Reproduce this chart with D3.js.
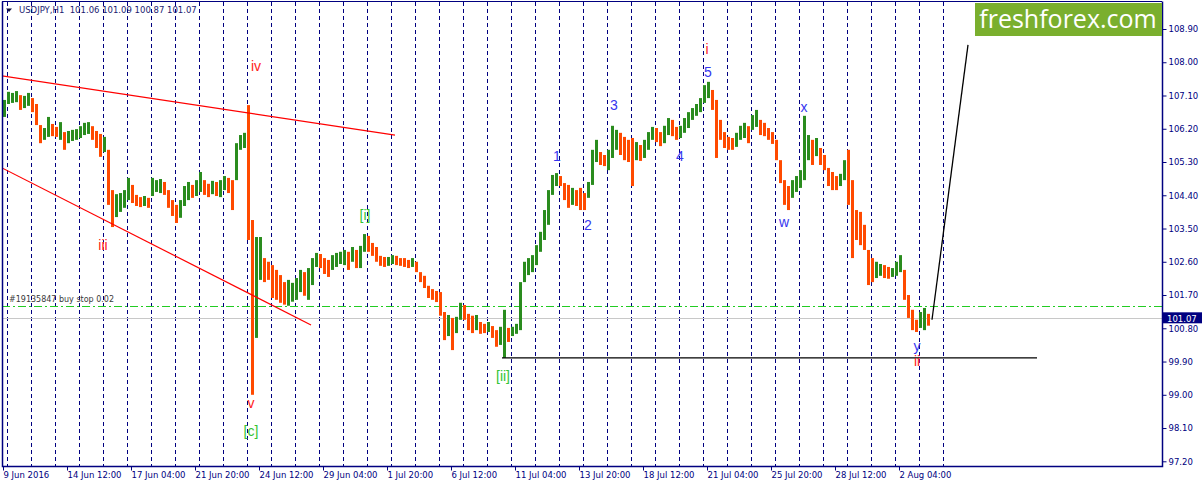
<!DOCTYPE html>
<html>
<head>
<meta charset="utf-8">
<script src="https://cdnjs.cloudflare.com/ajax/libs/d3/7.8.5/d3.min.js"></script>
<style>
  html, body { margin: 0; padding: 0; background: #fff; }
  svg { display: block; }
</style>
</head>
<body>
<div id="chart"></div>
<script>
// USDJPY H1, grouped into 4-hour high/low columns, first bar 9 Jun 2016 20:00
const hoursPerColumn = 4;
const barHigh = [
  106.98, 107.20, 107.17, 107.22, 107.11, 107.09, 107.17, 107.03, 106.87, 106.30,
  106.22, 106.52, 106.33, 106.25, 106.38, 106.11, 106.14, 106.17, 106.19, 106.27,
  106.36, 106.38, 106.27, 106.14, 106.06, 105.98, 105.63, 104.54, 104.43, 104.46,
  104.54, 104.87, 104.68, 104.41, 104.35, 104.38, 104.33, 104.87, 104.81, 104.84,
  104.76, 104.54, 104.27, 104.14, 104.27, 104.65, 104.76, 104.68, 104.81, 105.03,
  104.81, 104.71, 104.79, 104.76, 104.81, 104.92, 104.87, 104.81, 105.81, 106.03,
  106.09, 106.84, 103.73, 103.27, 103.27, 102.70, 102.60, 102.51, 102.38, 102.24,
  102.05, 102.11, 102.03, 102.16, 102.38, 102.32, 102.43, 102.70, 102.84, 102.81,
  102.70, 102.65, 102.78, 102.84, 102.87, 102.92, 102.87, 103.00, 102.92, 103.03,
  103.35, 103.30, 103.11, 103.00, 102.76, 102.73, 102.73, 102.78, 102.76, 102.70,
  102.70, 102.65, 102.70, 102.60, 102.32, 102.22, 101.95, 101.86, 101.81, 101.78,
  101.24, 101.16, 101.08, 101.11, 101.49, 101.43, 101.19, 101.14, 101.16, 100.97,
  100.92, 100.97, 100.86, 100.75, 100.84, 101.30, 100.81, 100.84, 100.92, 102.05,
  102.60, 102.70, 102.78, 103.05, 103.41, 104.00, 104.54, 104.95, 105.00, 104.92,
  104.73, 104.68, 104.60, 104.54, 104.60, 104.46, 104.76, 105.63, 105.90, 105.57,
  105.49, 105.63, 106.28, 106.17, 106.09, 105.98, 105.90, 105.95, 105.84, 105.76,
  105.90, 106.11, 106.25, 106.22, 106.11, 106.28, 106.49, 106.44, 106.25, 106.28,
  106.49, 106.65, 106.76, 106.87, 107.03, 107.38, 107.47, 107.25, 106.98, 106.44,
  106.11, 105.98, 105.95, 106.09, 106.28, 106.36, 106.27, 106.57, 106.71, 106.44,
  106.36, 106.22, 106.11, 105.90, 105.35, 104.81, 104.65, 104.81, 104.92, 105.08,
  106.55, 106.03, 105.90, 105.95, 105.68, 105.49, 105.14, 105.03, 104.92, 104.98,
  105.35, 105.63, 104.81, 104.00, 103.95, 103.60, 102.92, 102.70, 102.60, 102.54,
  102.51, 102.46, 102.43, 102.60, 102.78, 102.38, 101.70, 101.30, 101.03, 101.24,
  101.35, 101.19
];
const barLow = [
  106.52, 106.87, 106.90, 106.92, 106.71, 106.76, 106.82, 106.65, 106.30, 105.81,
  105.90, 105.98, 106.00, 105.98, 105.90, 105.63, 105.81, 105.87, 105.90, 105.95,
  106.03, 106.06, 105.90, 105.68, 105.44, 105.57, 104.14, 103.54, 103.81, 103.95,
  104.06, 104.27, 104.19, 104.11, 104.08, 104.11, 104.06, 104.38, 104.49, 104.46,
  104.41, 104.06, 103.84, 103.65, 103.79, 104.11, 104.27, 104.33, 104.38, 104.49,
  104.41, 104.35, 104.43, 104.38, 104.35, 104.54, 104.46, 104.00, 104.81, 105.63,
  105.68, 103.19, 99.00, 100.54, 102.11, 102.05, 102.11, 101.62, 101.57, 101.49,
  101.44, 101.41, 101.52, 101.57, 101.78, 101.68, 101.57, 101.97, 102.46, 102.43,
  102.27, 102.19, 102.38, 102.46, 102.54, 102.51, 102.38, 102.60, 102.43, 102.43,
  102.87, 102.87, 102.76, 102.60, 102.49, 102.46, 102.49, 102.54, 102.51, 102.49,
  102.46, 102.43, 102.46, 102.32, 102.05, 101.89, 101.62, 101.57, 101.51, 101.14,
  100.48, 100.59, 100.21, 100.67, 101.03, 101.03, 100.75, 100.67, 100.75, 100.65,
  100.67, 100.70, 100.54, 100.30, 100.35, 100.00, 100.43, 100.59, 100.65, 100.75,
  102.05, 102.24, 102.32, 102.51, 102.87, 103.19, 103.60, 104.41, 104.65, 104.65,
  104.27, 104.06, 104.14, 104.11, 104.00, 104.00, 104.33, 104.68, 105.30, 105.22,
  105.19, 105.08, 105.41, 105.63, 105.49, 105.35, 105.30, 104.65, 105.35, 105.33,
  105.41, 105.63, 105.90, 105.84, 105.73, 105.81, 106.03, 106.00, 105.90, 105.95,
  106.09, 106.22, 106.44, 106.55, 106.65, 106.90, 107.03, 106.71, 105.41, 105.90,
  105.68, 105.63, 105.63, 105.71, 105.90, 105.95, 105.81, 106.17, 106.25, 106.03,
  106.00, 105.90, 105.79, 105.35, 104.73, 104.14, 104.00, 104.33, 104.49, 104.60,
  104.81, 105.35, 105.22, 105.46, 105.22, 105.08, 104.65, 104.54, 104.54, 104.65,
  104.81, 104.14, 102.70, 103.19, 103.05, 102.92, 101.97, 102.05, 102.16, 102.22,
  102.16, 102.14, 102.19, 102.22, 102.32, 101.57, 101.08, 100.75, 100.70, 100.81,
  100.75, 100.87
];

const timeLabels = [
  "9 Jun 2016", "14 Jun 12:00", "17 Jun 04:00", "21 Jun 20:00", "24 Jun 12:00",
  "29 Jun 04:00", "1 Jul 20:00", "6 Jul 12:00", "11 Jul 04:00", "13 Jul 20:00",
  "18 Jul 12:00", "21 Jul 04:00", "25 Jul 20:00", "28 Jul 12:00", "2 Aug 04:00"
];
const timeLabelHours = [0, 64, 128, 192, 256, 320, 384, 448, 512, 576, 640, 704, 768, 832, 896];
const priceTicks = [108.9, 108.0, 107.1, 106.2, 105.3, 104.4, 103.5, 102.6, 101.7, 100.8, 99.9, 99.0, 98.1, 97.2];

const lastPrice = 101.07;
const buyStopPrice = 101.39;
const orderText = "#19135847 buy stop 0.02";
const titleText = "USDJPY,H1  101.06 101.09 100.87 101.07";

// wave counts: [text, hour, price, degree]
const waveLabels = [
  ["iii", 100, 103.06, "minor"],
  ["iv", 253, 107.90, "minor"],
  ["v", 248, 98.78, "minor"],
  ["[c]", 248, 98.02, "intermediate"],
  ["[i]", 362, 103.87, "intermediate"],
  ["[ii]", 500, 99.51, "intermediate"],
  ["1", 554, 105.46, "minute"],
  ["2", 585, 103.60, "minute"],
  ["3", 611, 106.84, "minute"],
  ["4", 677, 105.46, "minute"],
  ["5", 705, 107.74, "minute"],
  ["i", 704, 108.36, "minor"],
  ["w", 781, 103.68, "minute"],
  ["x", 801, 106.79, "minute"],
  ["y", 914, 100.32, "minute"],
  ["ii", 914, 99.92, "minor"]
];

// drawn objects: [hour1, price1, hour2, price2, kind]
const trendLines = [
  [-1, 107.63, 392, 106.03, "channel"],
  [-1, 105.14, 308, 100.89, "channel"],
  [499, 100.0, 1034, 100.0, "level"],
  [929, 101.03, 965, 108.47, "forecast"]
];

const degreeColor = { minor: "#ff1a1a", intermediate: "#33c433", minute: "#3636f0" };
const lineColor = { channel: "#ff0000", level: "#000000", forecast: "#000000" };
const navy = "#000080";

class BarChart {
  constructor(selector) {
    this.width = 1202;
    this.height = 485;
    this.plot = { left: 2, top: 2, right: 1162, bottom: 466 };

    this.svg = d3
      .select(selector)
      .append("svg")
      .attr("width", this.width)
      .attr("height", this.height)
      .attr("viewBox", `0 0 ${this.width} ${this.height}`)
      .style("font-family", '"DejaVu Sans", sans-serif');

    // one pixel per hourly bar
    this.x = d3.scaleLinear().domain([0, 1159]).range([3, 1162]);
    this.y = d3.scaleLinear().domain([97.2, 108.9]).range([461.3, 29]);

    this.clip = this.svg
      .append("clipPath")
      .attr("id", "plot-clip")
      .append("rect")
      .attr("x", this.plot.left)
      .attr("y", this.plot.top)
      .attr("width", this.plot.right - this.plot.left)
      .attr("height", this.plot.bottom - this.plot.top);

    this.chart = this.svg.append("g").attr("clip-path", "url(#plot-clip)");
  }

  render() {
    this.renderSeparators();
    this.renderPriceLines();
    this.renderBars();
    this.renderTrendLines();
    this.renderWaveLabels();
    this.renderFrame();
    this.renderAxes();
    this.renderTitle();
    this.renderLogo();
  }

  renderSeparators() {
    // day separators every 24 bars, first at 10 Jun 00:00
    let hours = d3.range(4, 944, 24);
    this.chart
      .selectAll("line.sep")
      .data(hours)
      .join("line")
      .attr("class", "sep")
      .attr("x1", (d) => Math.round(this.x(d)) + 0.5)
      .attr("x2", (d) => Math.round(this.x(d)) + 0.5)
      .attr("y1", this.plot.top)
      .attr("y2", this.plot.bottom)
      .attr("stroke", navy)
      .attr("stroke-width", 1)
      .attr("stroke-dasharray", "4,3");
  }

  renderPriceLines() {
    let y = this.y;
    this.chart
      .append("line")
      .attr("x1", this.plot.left)
      .attr("x2", this.plot.right)
      .attr("y1", Math.round(y(lastPrice)) + 0.5)
      .attr("y2", Math.round(y(lastPrice)) + 0.5)
      .attr("stroke", "#c8c8c8");

    this.chart
      .append("line")
      .attr("x1", this.plot.left)
      .attr("x2", this.plot.right)
      .attr("y1", Math.round(y(buyStopPrice)) + 0.5)
      .attr("y2", Math.round(y(buyStopPrice)) + 0.5)
      .attr("stroke", "#22cc22")
      .attr("stroke-dasharray", "8,3,2,3");

    this.chart
      .append("text")
      .attr("x", 9)
      .attr("y", y(buyStopPrice) - 4)
      .attr("font-size", 8)
      .attr("fill", "#3a3a3a")
      .text(orderText);
  }

  renderBars() {
    let x = this.x;
    let y = this.y;
    let data = barHigh.map((hi, i) => ({ hi, lo: barLow[i], i }));
    data.forEach((d, i) => {
      let mid = (d.hi + d.lo) / 2;
      let prev = i > 0 ? (data[i - 1].hi + data[i - 1].lo) / 2 : mid;
      d.up = mid >= prev;
    });

    this.chart
      .selectAll("rect.bar")
      .data(data)
      .join("rect")
      .attr("class", "bar")
      .attr("x", (d) => x(d.i * hoursPerColumn))
      .attr("width", hoursPerColumn - 1)
      .attr("y", (d) => y(d.hi))
      .attr("height", (d) => Math.max(1, y(d.lo) - y(d.hi)))
      .attr("fill", (d) => (d.up ? "#2a8c1e" : "#ff4a00"));
  }

  renderTrendLines() {
    let x = this.x;
    let y = this.y;
    this.chart
      .selectAll("line.trend")
      .data(trendLines)
      .join("line")
      .attr("class", "trend")
      .attr("x1", (d) => x(d[0]))
      .attr("y1", (d) => y(d[1]))
      .attr("x2", (d) => x(d[2]))
      .attr("y2", (d) => y(d[3]))
      .attr("stroke", (d) => lineColor[d[4]])
      .attr("stroke-width", (d) => (d[4] === "forecast" ? 1.3 : 1.2));
  }

  renderWaveLabels() {
    let x = this.x;
    let y = this.y;
    this.chart
      .selectAll("text.wave")
      .data(waveLabels)
      .join("text")
      .attr("class", "wave")
      .attr("x", (d) => x(d[1]))
      .attr("y", (d) => y(d[2]))
      .attr("dy", "0.35em")
      .attr("text-anchor", "middle")
      .attr("font-family", '"Liberation Sans", Arial, sans-serif')
      .attr("font-size", 14)
      .attr("fill", (d) => degreeColor[d[3]])
      .text((d) => d[0]);
  }

  renderFrame() {
    let p = this.plot;
    this.svg
      .append("path")
      .attr("d", `M${p.left + 0.5},${p.top - 0.5}V${p.bottom + 0.5}H${p.right + 0.5}V${p.top - 0.5}`)
      .attr("fill", "none")
      .attr("stroke", navy)
      .attr("stroke-width", 1.5);
    this.svg
      .append("line")
      .attr("x1", p.left)
      .attr("x2", p.right)
      .attr("y1", p.top - 0.5)
      .attr("y2", p.top - 0.5)
      .attr("stroke", navy);
  }

  renderAxes() {
    let yAxis = this.svg
      .append("g")
      .attr("transform", `translate(${this.plot.right + 0.5},0)`)
      .call(
        d3
          .axisRight(this.y)
          .tickValues(priceTicks)
          .tickFormat(d3.format(".2f"))
          .tickSize(4)
          .tickPadding(2)
      );
    yAxis.select(".domain").remove();
    yAxis.selectAll("line").attr("stroke", navy);
    yAxis
      .selectAll("text")
      .attr("fill", navy)
      .style("font-size", "8.5px")
      .style("font-family", '"DejaVu Sans", sans-serif');

    let xAxis = this.svg
      .append("g")
      .attr("transform", `translate(0,${this.plot.bottom + 0.5})`)
      .call(
        d3
          .axisBottom(this.x)
          .tickValues(timeLabelHours)
          .tickFormat((d, i) => timeLabels[i])
          .tickSize(4)
          .tickPadding(1)
      );
    xAxis.select(".domain").remove();
    xAxis.selectAll("line").attr("stroke", navy);
    xAxis
      .selectAll("text")
      .attr("fill", navy)
      .attr("text-anchor", "start")
      .style("font-size", "8.5px")
      .style("font-family", '"DejaVu Sans", sans-serif');

    // bid price tag
    let py = this.y(lastPrice);
    this.svg
      .append("rect")
      .attr("x", this.plot.right + 1)
      .attr("y", py - 6)
      .attr("width", this.width - this.plot.right - 1)
      .attr("height", 11)
      .attr("fill", navy);
    this.svg
      .append("text")
      .attr("x", this.plot.right + 5)
      .attr("y", py + 3.5)
      .attr("fill", "#ffffff")
      .attr("font-size", 8.5)
      .text(d3.format(".2f")(lastPrice));
  }

  renderTitle() {
    this.svg
      .append("path")
      .attr("d", "M6,8.5H12L9,12Z")
      .attr("fill", "#101040");
    this.svg
      .append("text")
      .attr("x", 19)
      .attr("y", 13)
      .attr("font-size", 8.5)
      .attr("fill", "#1a1a70")
      .attr("xml:space", "preserve")
      .text(titleText);
  }

  renderLogo() {
    this.svg
      .append("rect")
      .attr("x", 975)
      .attr("y", 3)
      .attr("width", this.plot.right - 975)
      .attr("height", 33)
      .attr("fill", "#7aaf2e");
    this.svg
      .append("text")
      .attr("x", 1068)
      .attr("y", 28)
      .attr("text-anchor", "middle")
      .attr("font-family", '"Open Sans", sans-serif')
      .attr("font-size", 25)
      .attr("fill", "#ffffff")
      .text("freshforex.com");
  }
}

new BarChart("#chart").render();
</script>
</body>
</html>
